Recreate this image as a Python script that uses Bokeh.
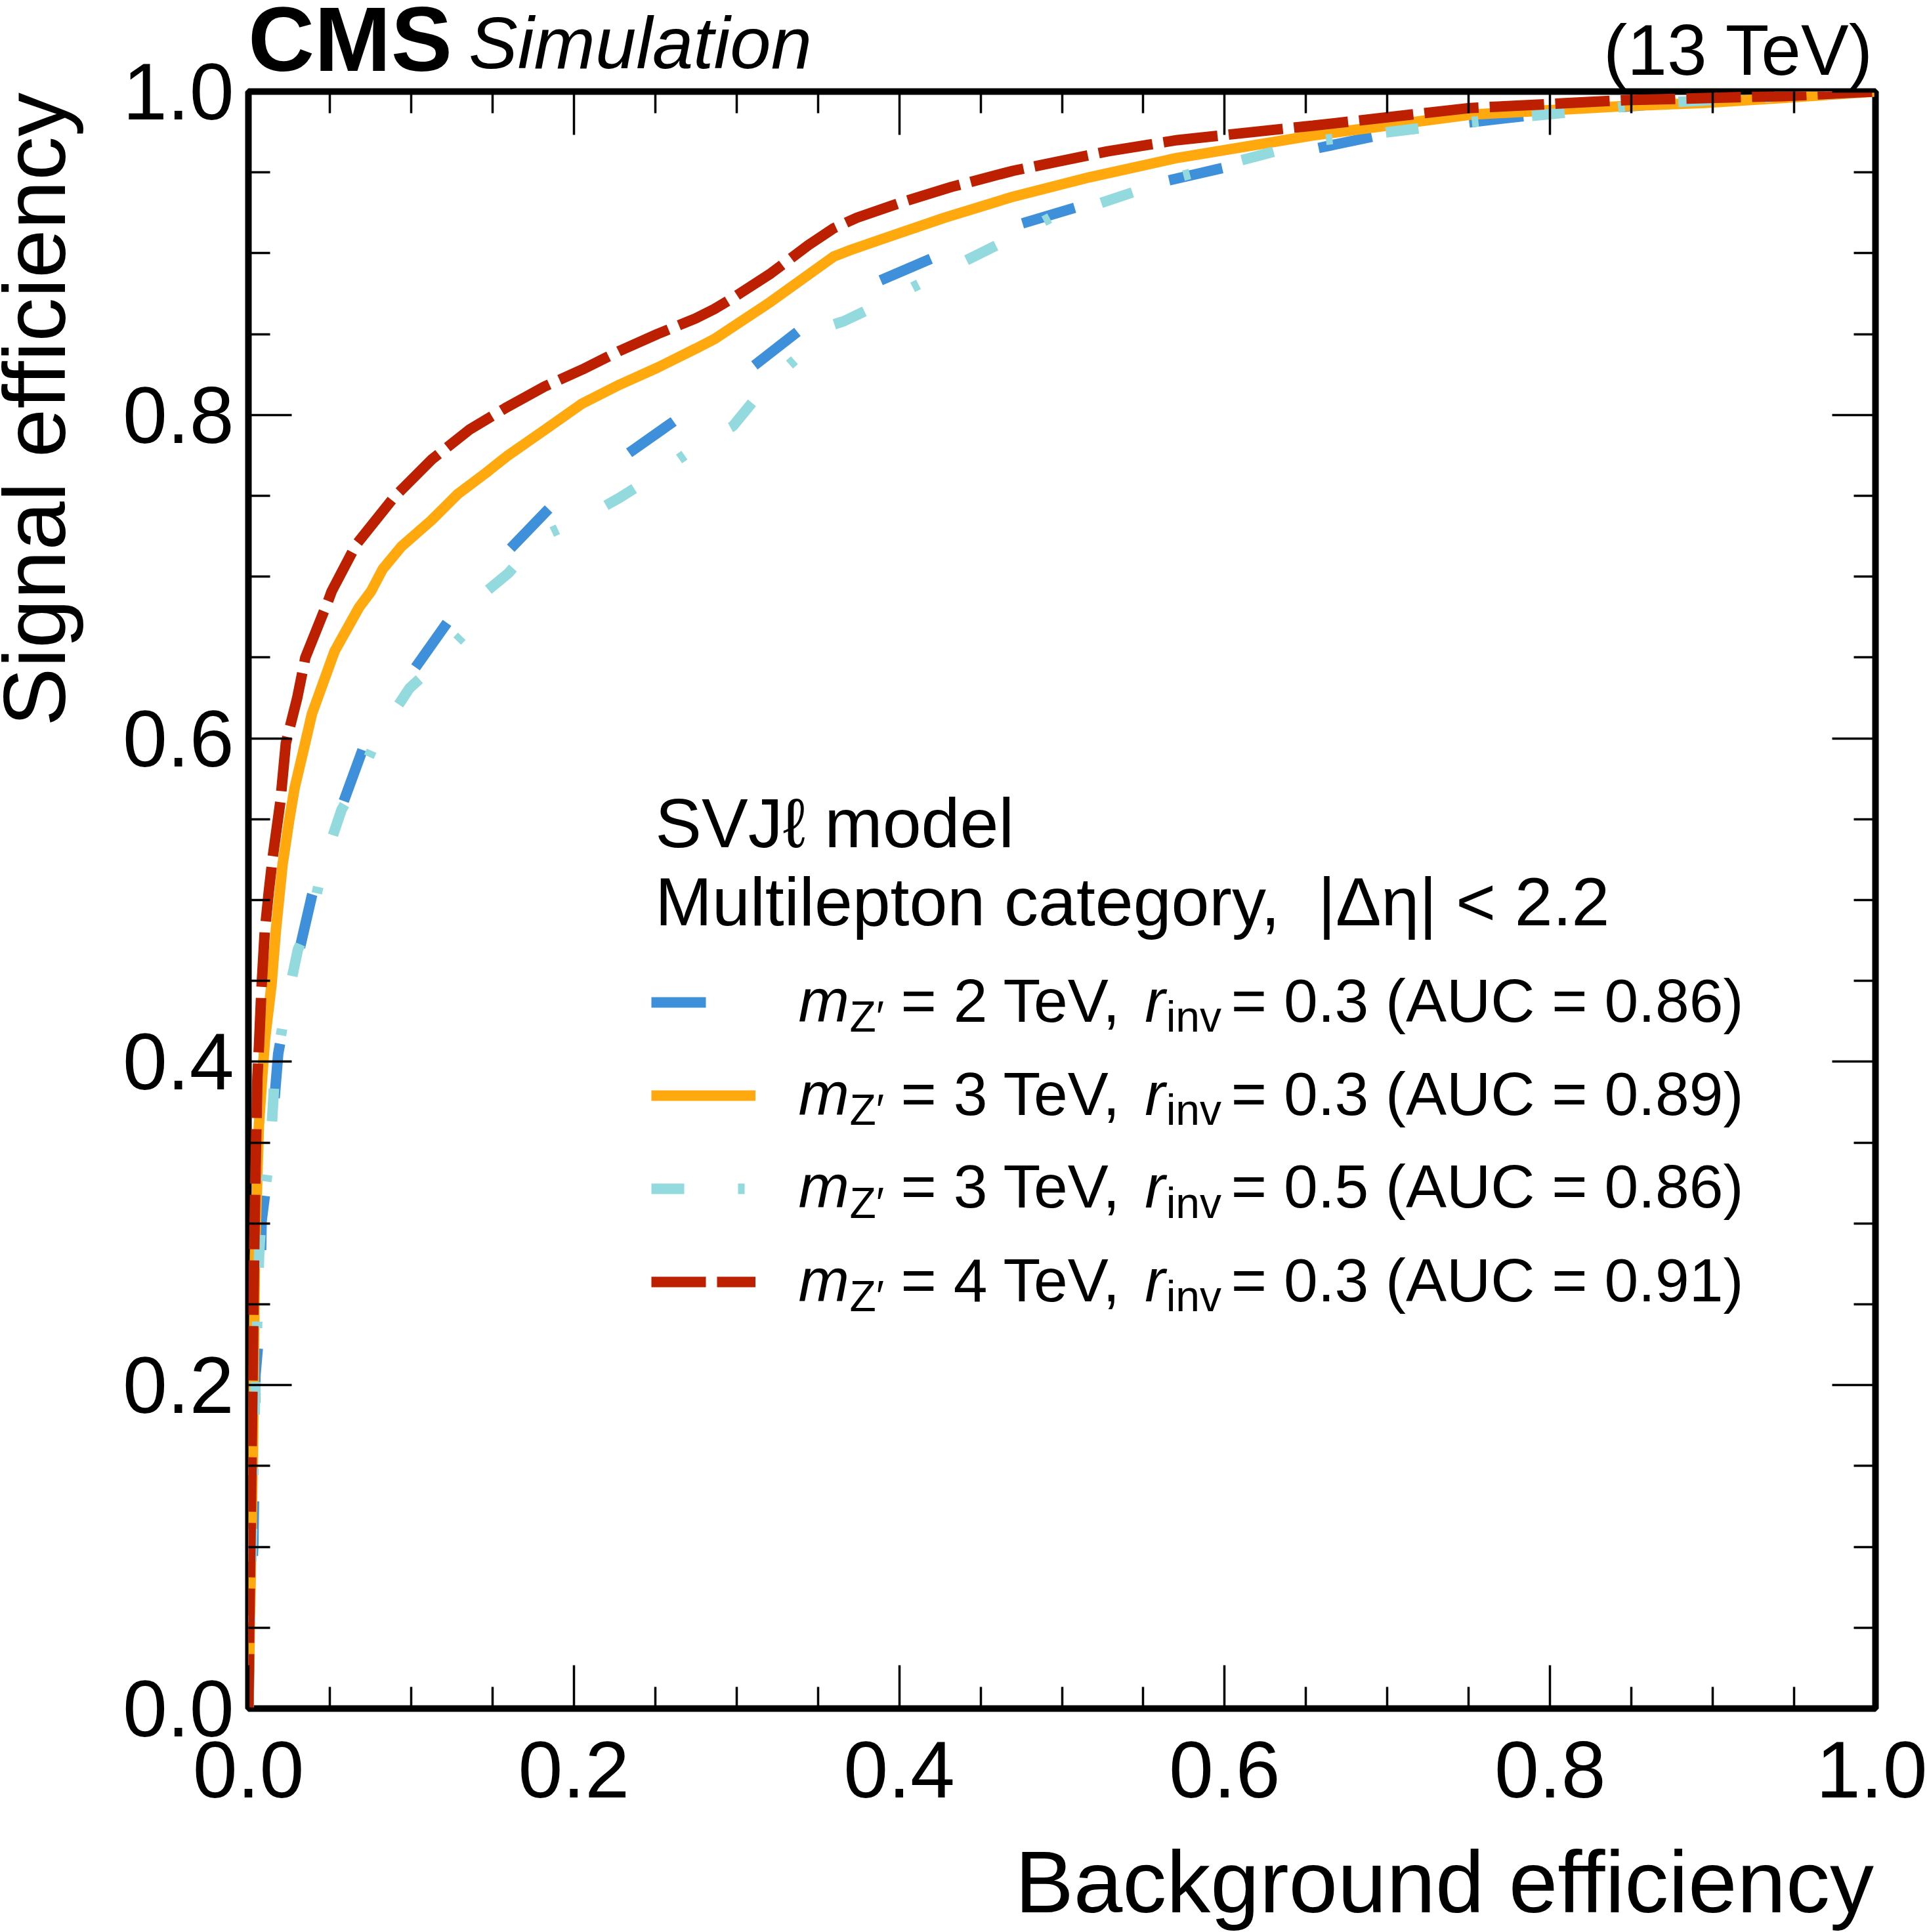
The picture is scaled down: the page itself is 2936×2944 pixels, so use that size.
from bokeh.plotting import figure
from bokeh.models import (Range1d, LinearAxis, FixedTicker, PrintfTickFormatter,
                          Label, Legend, LegendItem, GridBox, Div)
from bokeh.embed import file_html
from bokeh.resources import INLINE

# ---------------- data ----------------
x_2tev_r03 = [0, 0.001, 0.003, 0.0035, 0.0043, 0.0069, 0.0081, 0.0133, 0.0183, 0.024,
              0.0391, 0.048, 0.072, 0.088, 0.126, 0.1334, 0.1473, 0.189, 0.218, 0.267,
              0.2943, 0.3464, 0.3598, 0.374, 0.432, 0.461, 0.524, 0.548, 0.60, 0.712,
              0.808, 0.90, 1.0]
y_2tev_r03 = [0, 0.05, 0.102, 0.1355, 0.2058, 0.2366, 0.3015, 0.343, 0.405, 0.437,
              0.5031, 0.532, 0.598, 0.623, 0.677, 0.688, 0.703, 0.7466, 0.7652, 0.800,
              0.8176, 0.8584, 0.8665, 0.877, 0.902, 0.914, 0.933, 0.941, 0.953, 0.9765,
              0.9876, 0.995, 1.0]

x_3tev_r03 = [0, 0.001, 0.0028, 0.004, 0.0064, 0.0082, 0.0102, 0.0142, 0.0169, 0.021,
              0.025, 0.0284, 0.0344, 0.039, 0.053, 0.068, 0.0754, 0.0825, 0.094, 0.1125,
              0.1288, 0.1473, 0.1589, 0.182, 0.2052, 0.2283, 0.2515, 0.2747, 0.2862, 0.321,
              0.3598, 0.370, 0.393, 0.428, 0.470, 0.517, 0.571, 0.6543, 0.7506, 0.847,
              0.895, 0.943, 1.0]
y_3tev_r03 = [0, 0.06, 0.16, 0.28, 0.36, 0.387, 0.414, 0.4476, 0.4815, 0.522,
              0.549, 0.5694, 0.595, 0.615, 0.654, 0.681, 0.691, 0.7046, 0.7186, 0.7349,
              0.7512, 0.7652, 0.7745, 0.7907, 0.8071, 0.8188, 0.8293, 0.8409, 0.8468, 0.870,
              0.898, 0.902, 0.910, 0.922, 0.935, 0.947, 0.959, 0.9729, 0.9857, 0.9911,
              0.993, 0.996, 1.0]

x_3tev_r05 = [0, 0.001, 0.004, 0.0066, 0.0081, 0.0133, 0.0159, 0.0169, 0.023, 0.0304,
              0.0384, 0.0464, 0.0573, 0.0667, 0.080, 0.099, 0.111, 0.132, 0.1464, 0.1598,
              0.1797, 0.2098, 0.2283, 0.2525, 0.277, 0.2978, 0.3187, 0.3488, 0.3598, 0.366,
              0.393, 0.424, 0.436, 0.466, 0.493, 0.509, 0.571, 0.6543, 0.75, 0.871, 1.0]
y_3tev_r05 = [0, 0.05, 0.19, 0.282, 0.305, 0.343, 0.3868, 0.398, 0.434, 0.4693,
              0.4882, 0.5235, 0.556, 0.5722, 0.602, 0.631, 0.642, 0.664, 0.691, 0.7022,
              0.7244, 0.7384, 0.7489, 0.7642, 0.7815, 0.7931, 0.8188, 0.8456, 0.856, 0.858,
              0.871, 0.887, 0.893, 0.908, 0.922, 0.926, 0.947, 0.9692, 0.981, 0.9932, 1.0]

x_4tev_r03 = [0, 0.0005, 0.0015, 0.0025, 0.0035, 0.0045, 0.0055, 0.0065, 0.008, 0.010,
              0.0125, 0.015, 0.0196, 0.023, 0.030, 0.035, 0.049, 0.0512, 0.0662, 0.0894,
              0.1125, 0.1357, 0.1589, 0.182, 0.2052, 0.2283, 0.2515, 0.2747, 0.2862, 0.2978,
              0.321, 0.3441, 0.3598, 0.374, 0.40, 0.432, 0.470, 0.528, 0.571, 0.6543,
              0.7506, 0.847, 0.9431, 1.0]
y_4tev_r03 = [0, 0.05, 0.12, 0.20, 0.28, 0.34, 0.39, 0.41, 0.445, 0.48,
              0.505, 0.527, 0.5606, 0.597, 0.625, 0.65, 0.685, 0.691, 0.7198, 0.749,
              0.7723, 0.7908, 0.8048, 0.8176, 0.8281, 0.8397, 0.8501, 0.8596, 0.8654, 0.8724,
              0.8875, 0.905, 0.9155, 0.922, 0.931, 0.941, 0.951, 0.963, 0.970, 0.9789,
              0.9898, 0.9947, 0.9972, 1.0]

masses = ["2", "3", "3", "4"]
rinvs = ["0.3", "0.3", "0.5", "0.3"]
aucs = ["0.86", "0.89", "0.86", "0.91"]
colors = ["#3f90da", "#ffa90e", "#92dadd", "#bd1f01"]
dashes = ["83 150", "solid", "50 82 10 82", "83 17"]
xs = [x_2tev_r03, x_3tev_r03, x_3tev_r05, x_4tev_r03]
ys = [y_2tev_r03, y_3tev_r03, y_3tev_r05, y_4tev_r03]

major_ticks = [0.0, 0.2, 0.4, 0.6, 0.8, 1.0]
minor_ticks = [0.05, 0.1, 0.15, 0.25, 0.3, 0.35, 0.45, 0.5, 0.55, 0.65, 0.7, 0.75,
               0.85, 0.9, 0.95]

header_left = "CMS"
header_sub = "Simulation"
header_right = "(13 TeV)"
x_title = "Background efficiency"
y_title = "Signal efficiency"

FONT = "Liberation Sans"
W, H = 2936, 2944
BASE_SHIFT = 0.38   # empirical correction of rendered baseline (fraction of font size)
FRAME_H = 2464.0

# ---------------- main figure ----------------
p = figure(width=W, height=H, x_range=Range1d(0, 1), y_range=Range1d(0, 1),
           output_backend="svg", toolbar_location=None,
           x_axis_location=None, y_axis_location=None,
           min_border_left=378, min_border_right=79, min_border_top=139,
           min_border_bottom=341)
p.xgrid.visible = False
p.ygrid.visible = False
p.outline_line_color = "black"
p.outline_line_width = 10
p.outline_line_alpha = 1.0
p.background_fill_color = "white"
p.border_fill_color = "white"


def make_axis(show_labels, standoff):
    ax = LinearAxis(ticker=FixedTicker(ticks=major_ticks, minor_ticks=minor_ticks),
                    formatter=PrintfTickFormatter(format="%.1f"))
    ax.axis_line_color = None
    ax.major_tick_in = 66
    ax.major_tick_out = 0
    ax.minor_tick_in = 33
    ax.minor_tick_out = 0
    ax.major_tick_line_width = 3.5
    ax.minor_tick_line_width = 3.5
    ax.major_tick_line_color = "black"
    ax.minor_tick_line_color = "black"
    ax.major_label_text_font = FONT
    ax.major_label_text_color = "black"
    ax.major_label_standoff = standoff
    if show_labels:
        ax.major_label_text_font_size = "122px"
    else:
        ax.major_label_text_font_size = "1px"
        ax.major_label_overrides = {t: "" for t in major_ticks}
    return ax


p.add_layout(make_axis(True, 22), "left")
p.add_layout(make_axis(True, 50), "below")
p.add_layout(make_axis(False, 0), "right")
p.add_layout(make_axis(False, 0), "above")

renderers = []
for x, y, c, d in zip(xs, ys, colors, dashes):
    r = p.line(x, y, line_color=c, line_width=16, line_dash=d)
    renderers.append(r)

legend = Legend(items=[LegendItem(label=" ", renderers=[r]) for r in renderers],
                location=(614, 640), glyph_width=159, glyph_height=20,
                label_height=20, label_text_font_size="1px", spacing=122,
                padding=0, margin=0, border_line_color=None,
                background_fill_alpha=0, label_standoff=0, label_width=1)
p.add_layout(legend, "center")


def dlabel(x, y, text, size, style="normal"):
    shift = BASE_SHIFT * size / FRAME_H
    p.add_layout(Label(x=x, y=y + shift, text=text, text_font=FONT,
                       text_font_size=f"{size}px", text_font_style=style,
                       text_align="left", text_baseline="alphabetic",
                       text_color="black"))


# legend header
dlabel(0.2500, 0.5313, "SVJ\u2113 model", 106)
dlabel(0.2500, 0.4830, "Multilepton category,\u00a0 |\u0394\u03b7| < 2.2", 104)

# legend entry texts
row_base = [0.4233, 0.3658, 0.3084, 0.2505]
sub_off = 0.0057
for yb, m, r_, a in zip(row_base, masses, rinvs, aucs):
    dlabel(0.3380, yb, "m", 93, "italic")
    dlabel(0.3695, yb - sub_off, "Z\u2032", 66)
    dlabel(0.4010, yb, "= " + m + " TeV,", 93)
    dlabel(0.5509, yb, "r", 93, "italic")
    dlabel(0.5640, yb - sub_off, "inv", 66)
    dlabel(0.6040, yb, "= " + r_ + " (AUC = " + a + ")", 93)

# ---------------- texts outside the frame: transparent HTML layer on top ----------------
LH = 0.75                   # line-height of the text boxes
ASC = LH / 2 + 0.3465       # baseline offset from the box top (Liberation Sans metrics)


def span(text, size, baseline, left=None, right=None, style="normal", weight="normal",
         rotate=False):
    css = (f"position:absolute;white-space:nowrap;line-height:{LH};margin:0;padding:0;"
           f"font-family:'{FONT}';font-size:{size}px;font-style:{style};"
           f"font-weight:{weight};color:#000;")
    if rotate:
        # baseline = x position of the baseline, right = y of the text end (top)
        css += (f"left:{baseline - ASC * size:.1f}px;top:{right:.1f}px;"
                f"transform-origin:0 0;transform:rotate(-90deg) translateX(-100%);")
    else:
        css += f"top:{baseline - ASC * size:.1f}px;"
        if left is not None:
            css += f"left:{left:.1f}px;"
        else:
            css += f"right:{W - right:.1f}px;"
    return f'<span style="{css}">{text}</span>'


html = (f'<div style="position:relative;width:{W}px;height:{H}px;'
        f'pointer-events:none;">'
        + span(header_left, 140, 108, left=378, weight="bold")
        + span(header_sub, 112, 105, left=714, style="italic")
        + span(header_right, 109, 114.6, right=2853)
        + span(x_title, 134, 2915, right=2855)
        + span(y_title, 134, 100, right=141, rotate=True)
        + "</div>")

overlay = Div(text=html, width=W, height=H, margin=0)

layout = GridBox(children=[(p, 0, 0), (overlay, 0, 0)])
open("out.html", "w").write(file_html(layout, INLINE))
